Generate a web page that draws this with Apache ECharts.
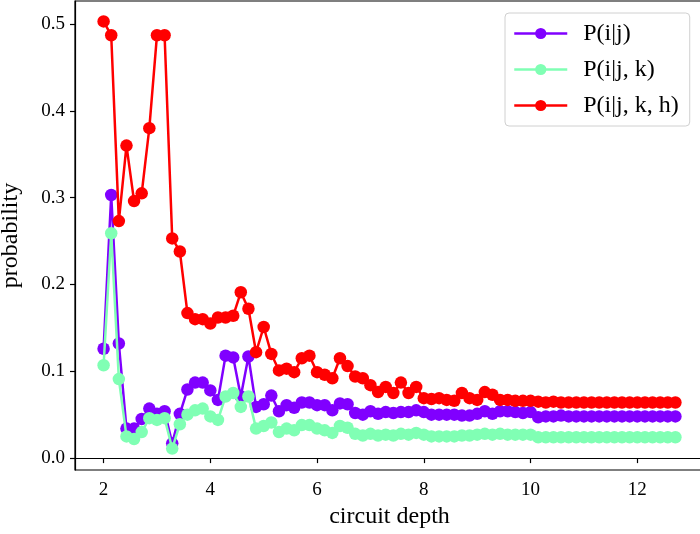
<!DOCTYPE html>
<html>
<head>
<meta charset="utf-8">
<script src="https://cdn.jsdelivr.net/npm/echarts@6/dist/echarts.min.js"></script>
<style>html,body{margin:0;padding:0;background:#fff;}#c{width:700px;height:534px;}</style>
</head>
<body>
<div id="c"></div>
<script>
const depth = [2.000,2.143,2.286,2.429,2.571,2.714,2.857,3.000,3.143,3.286,3.429,3.571,3.714,3.857,4.000,4.143,4.286,4.429,4.571,4.714,4.857,5.000,5.143,5.286,5.429,5.571,5.714,5.857,6.000,6.143,6.286,6.429,6.571,6.714,6.857,7.000,7.143,7.286,7.429,7.571,7.714,7.857,8.000,8.143,8.286,8.429,8.571,8.714,8.857,9.000,9.143,9.286,9.429,9.571,9.714,9.857,10.000,10.143,10.286,10.429,10.571,10.714,10.857,11.000,11.143,11.286,11.429,11.571,11.714,11.857,12.000,12.143,12.286,12.429,12.571,12.714];

const pJ = [0.126,0.303,0.132,0.034,0.034,0.045,0.057,0.051,0.054,0.017,0.051,0.079,0.087,0.087,0.078,0.067,0.118,0.116,0.071,0.117,0.059,0.062,0.072,0.054,0.061,0.058,0.064,0.064,0.061,0.061,0.055,0.063,0.062,0.052,0.050,0.054,0.051,0.053,0.052,0.053,0.053,0.055,0.053,0.050,0.050,0.050,0.050,0.049,0.049,0.051,0.054,0.051,0.054,0.054,0.053,0.052,0.053,0.047,0.048,0.048,0.049,0.048,0.048,0.048,0.048,0.048,0.048,0.048,0.048,0.048,0.048,0.048,0.048,0.048,0.048,0.048];

const pJK = [0.107,0.259,0.091,0.025,0.022,0.030,0.046,0.044,0.046,0.011,0.039,0.050,0.055,0.057,0.048,0.044,0.071,0.075,0.059,0.071,0.034,0.037,0.041,0.030,0.034,0.032,0.038,0.038,0.034,0.032,0.029,0.037,0.035,0.028,0.026,0.028,0.026,0.027,0.026,0.028,0.027,0.029,0.027,0.025,0.025,0.025,0.025,0.026,0.026,0.027,0.028,0.027,0.028,0.027,0.027,0.027,0.027,0.024,0.024,0.024,0.024,0.024,0.024,0.024,0.024,0.024,0.024,0.024,0.024,0.024,0.024,0.024,0.024,0.024,0.024,0.024];

const pJKH = [0.503,0.487,0.273,0.360,0.296,0.305,0.380,0.487,0.487,0.253,0.238,0.167,0.160,0.160,0.155,0.162,0.162,0.164,0.191,0.172,0.122,0.151,0.120,0.101,0.103,0.099,0.115,0.118,0.099,0.096,0.092,0.115,0.106,0.094,0.092,0.084,0.076,0.082,0.075,0.087,0.075,0.082,0.069,0.068,0.069,0.067,0.066,0.075,0.069,0.067,0.076,0.073,0.067,0.067,0.066,0.066,0.066,0.065,0.064,0.065,0.064,0.064,0.064,0.064,0.064,0.064,0.064,0.064,0.064,0.064,0.064,0.064,0.064,0.064,0.064,0.064];

const seriesNames = ['P(i|j)', 'P(i|j, k)', 'P(i|j, k, h)'];
const seriesColors = ['#8000ff', '#80ffb4', '#ff0000'];
const xTicks = [2, 4, 6, 8, 10, 12];
const yTicks = [0, 0.1, 0.2, 0.3, 0.4, 0.5];

const FONT = '"Liberation Serif", "Times New Roman", serif';
const allData = [pJ, pJK, pJKH];

const chart = echarts.init(document.getElementById('c'), null, {renderer: 'canvas'});
chart.setOption({
  animation: false,
  backgroundColor: '#ffffff',
  grid: {left: 75, top: 1, width: 629, height: 469, outerBoundsMode: 'none', containLabel: false,
         show: true, borderColor: '#000', borderWidth: 1.2, backgroundColor: 'transparent'},
  xAxis: {
    type: 'value', min: 1.4643, max: 13.25,
    name: 'circuit depth', nameLocation: 'middle', nameGap: 35,
    nameTextStyle: {fontFamily: FONT, fontSize: 24, color: '#000'},
    axisLine: {show: true, lineStyle: {color: '#000', width: 1.2}},
    axisTick: {show: true, length: 5, lineStyle: {color: '#000', width: 1.2}, customValues: xTicks},
    axisLabel: {fontFamily: FONT, fontSize: 19, color: '#000', margin: 11, customValues: xTicks, formatter: v => String(v)},
    splitLine: {show: false}
  },
  yAxis: {
    type: 'value', min: -0.0137, max: 0.5265,
    name: 'probability', nameLocation: 'middle', nameGap: 52, nameRotate: 90,
    nameTextStyle: {fontFamily: FONT, fontSize: 24, color: '#000'},
    axisLine: {show: true, lineStyle: {color: '#000', width: 1.2}},
    axisTick: {show: true, length: 5, lineStyle: {color: '#000', width: 1.2}, customValues: yTicks},
    axisLabel: {fontFamily: FONT, fontSize: 19, color: '#000', margin: 10, customValues: yTicks, formatter: v => v.toFixed(1)},
    splitLine: {show: false}
  },
  legend: {
    orient: 'vertical', left: 505, top: 13,
    padding: [8, 11, 8, 8],
    itemWidth: 53, itemHeight: 14, itemGap: 11,
    backgroundColor: 'rgba(255,255,255,0.8)', borderColor: '#d0d0d0', borderWidth: 1, borderRadius: 4,
    lineStyle: {width: 2.5},
    textStyle: {fontFamily: FONT, fontSize: 24, lineHeight: 25, color: '#000', padding: [0, 0, 0, 11]},
    data: seriesNames
  },
  series: allData.map((d, i) => ({
    name: seriesNames[i], type: 'line',
    data: depth.map((x, k) => [x, d[k]]),
    symbol: 'circle', symbolSize: 12.5, showSymbol: true,
    lineStyle: {color: seriesColors[i], width: 2.5},
    itemStyle: {color: seriesColors[i]},
    z: 2 + i
  }))
});
</script>
</body>
</html>
